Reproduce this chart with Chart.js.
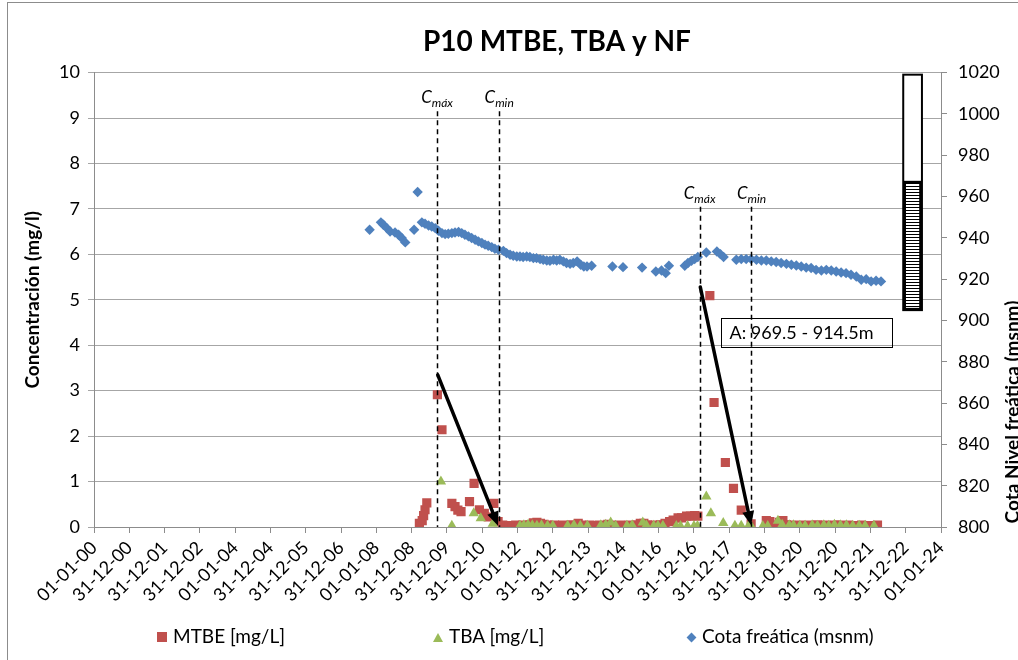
<!DOCTYPE html>
<html>
<head>
<meta charset="utf-8">
<script src="https://cdn.jsdelivr.net/npm/chart.js@4.4.1/dist/chart.umd.min.js"></script>
<style>
  html, body { margin: 0; padding: 0; background: #fff; overflow: hidden; }
  #wrap { position: relative; width: 1018px; height: 660px; overflow: hidden; }
  #frame { position: absolute; left: 7px; top: 2px; width: 1100px; height: 700px;
           border-left: 1px solid #8c8c8c; border-top: 1px solid #8c8c8c; }
  #chart { position: absolute; left: 0; top: 0; }
  .leg { position: absolute; top: 623px; font: 19px Lato, sans-serif; color: #000;
         white-space: nowrap; line-height: 26px; }
  .mk { display: inline-block; vertical-align: middle; margin-right: 6px; position: relative; top: -1px; }
  .sq { width: 10px; height: 10px; background: #C0504D; }
  .tri { width: 0; height: 0; border-left: 5px solid transparent; border-right: 5px solid transparent;
         border-bottom: 9px solid #9BBB59; }
  .dia { width: 7px; height: 7px; background: #4F81BD; transform: rotate(45deg); margin-right: 7px; }
</style>
</head>
<body>
<div id="wrap">
  <div id="frame"></div>
  <canvas id="chart" width="1114" height="660"></canvas>
  <div class="leg" style="left:157px"><span class="mk sq"></span>MTBE [mg/L]</div>
  <div class="leg" style="left:433px"><span class="mk tri"></span>TBA [mg/L]</div>
  <div class="leg" style="left:688px"><span class="mk dia"></span>Cota freática (msnm)</div>
</div>
<script>
// x values are decimal years
var tickLabels = ["01-01-00", "31-12-00", "31-12-01", "31-12-02", "01-01-04", "31-12-04", "31-12-05",
  "31-12-06", "01-01-08", "31-12-08", "31-12-09", "31-12-10", "01-01-12", "31-12-12", "31-12-13",
  "31-12-14", "01-01-16", "31-12-16", "31-12-17", "31-12-18", "01-01-20", "31-12-20", "31-12-21",
  "31-12-22", "01-01-24"];

var mtbeYears = [2009.22, 2009.30, 2009.34, 2009.38, 2009.43, 2009.73, 2009.86, 2010.14, 2010.23, 2010.31,
  2010.40, 2010.64, 2010.77, 2010.92, 2011.06, 2011.17, 2011.33, 2011.45,
  2011.58, 2011.66, 2011.75, 2011.85, 2011.95, 2012.05, 2012.15, 2012.25, 2012.35, 2012.45, 2012.55,
  2012.65, 2012.75, 2012.85, 2012.95, 2013.05, 2013.15, 2013.28, 2013.40, 2013.52, 2013.62, 2013.72,
  2013.82, 2013.95, 2014.05, 2014.20, 2014.32, 2014.45, 2014.56, 2014.66, 2014.78, 2014.90, 2015.02,
  2015.15, 2015.27, 2015.38, 2015.48, 2015.58, 2015.68, 2015.80, 2015.92, 2016.05, 2016.18, 2016.31,
  2016.41, 2016.55, 2016.65, 2016.79, 2016.90, 2017.02, 2017.11,
  2017.45, 2017.57, 2017.89, 2018.12, 2018.34, 2018.62,
  2019.05, 2019.15, 2019.28, 2019.42, 2019.52, 2019.62, 2019.75, 2019.88, 2020.00, 2020.12, 2020.25,
  2020.38, 2020.50, 2020.62, 2020.75, 2020.88, 2021.00, 2021.12, 2021.25, 2021.38, 2021.50, 2021.62,
  2021.75, 2021.88, 2022.00, 2022.12, 2022.20];
var mtbeValues = [0.08, 0.14, 0.25, 0.38, 0.53, 2.91, 2.14, 0.52, 0.45, 0.37,
  0.34, 0.56, 0.96, 0.38, 0.30, 0.22, 0.52, 0.12,
  0.04, 0.03, 0.03, 0.03, 0.04, 0.03, 0.04, 0.03, 0.05, 0.09, 0.10,
  0.08, 0.06, 0.04, 0.03, 0.04, 0.03, 0.04, 0.03, 0.05, 0.03, 0.08,
  0.04, 0.03, 0.04, 0.03, 0.04, 0.03, 0.06, 0.04, 0.03, 0.04, 0.03,
  0.04, 0.03, 0.05, 0.08, 0.08, 0.05, 0.03, 0.04, 0.05, 0.08, 0.12,
  0.15, 0.20, 0.20, 0.24, 0.24, 0.25, 0.24,
  5.09, 2.74, 1.42, 0.85, 0.37, 0.07,
  0.14, 0.12, 0.04, 0.10, 0.14, 0.05, 0.04, 0.03, 0.04, 0.03, 0.04,
  0.03, 0.05, 0.03, 0.04, 0.03, 0.04, 0.04, 0.03, 0.04, 0.03, 0.03,
  0.04, 0.03, 0.03, 0.03, 0.04];

var tbaYears = [2009.83, 2010.14, 2010.76, 2010.96, 2011.30,
  2012.07, 2012.18, 2012.30, 2012.42, 2012.55, 2012.68, 2012.85, 2013.00, 2013.42, 2013.60, 2013.78,
  2013.98, 2014.36, 2014.50, 2014.64, 2014.78, 2015.10, 2015.25, 2015.55, 2015.65, 2015.86, 2015.98,
  2016.12, 2016.50, 2016.62, 2016.82, 2017.00, 2017.10,
  2017.35, 2017.48, 2017.83, 2018.16, 2018.34, 2018.55, 2018.62,
  2018.95, 2019.09, 2019.38, 2019.50, 2019.70, 2019.82, 2020.00, 2020.15, 2020.35, 2020.50, 2020.68,
  2020.82, 2020.98, 2021.15, 2021.32, 2021.50, 2021.68, 2021.85, 2022.10];
var tbaValues = [1.00, 0.03, 0.30, 0.19, 0.07,
  0.03, 0.04, 0.05, 0.04, 0.03, 0.04, 0.03, 0.03, 0.03, 0.04, 0.03,
  0.03, 0.04, 0.05, 0.10, 0.03, 0.03, 0.04, 0.10, 0.04, 0.03, 0.03,
  0.03, 0.02, 0.02, 0.02, 0.02, 0.02,
  0.67, 0.30, 0.09, 0.03, 0.03, 0.03, 0.02,
  0.02, 0.02, 0.14, 0.05, 0.04, 0.04, 0.03, 0.03, 0.04, 0.03, 0.04,
  0.03, 0.05, 0.04, 0.04, 0.03, 0.03, 0.03, 0.03];

var cotaYears = [2007.81, 2008.13, 2008.20, 2008.30, 2008.39, 2008.53, 2008.63, 2008.72, 2008.82, 2009.07,
  2009.17, 2009.29, 2009.38, 2009.48, 2009.57, 2009.67, 2009.76, 2009.86, 2009.95, 2010.04,
  2010.14, 2010.23, 2010.33, 2010.42, 2010.51, 2010.61, 2010.70, 2010.80, 2010.89, 2010.99,
  2011.08, 2011.17, 2011.27, 2011.36, 2011.46, 2011.60, 2011.69, 2011.79, 2011.88, 2011.98,
  2012.07, 2012.16, 2012.26, 2012.35, 2012.45, 2012.54, 2012.64, 2012.73, 2012.83, 2012.92,
  2013.02, 2013.11, 2013.20, 2013.30, 2013.39, 2013.49, 2013.58, 2013.69, 2013.79, 2013.88,
  2013.97, 2014.10, 2014.69, 2014.99, 2015.53, 2015.92, 2016.08, 2016.20, 2016.29, 2016.74,
  2016.83, 2016.93, 2017.02, 2017.11, 2017.35, 2017.65, 2017.75, 2017.84, 2018.20, 2018.34,
  2018.48, 2018.62, 2018.77, 2018.91, 2019.05, 2019.19, 2019.33, 2019.47, 2019.62, 2019.76,
  2019.90, 2020.04, 2020.18, 2020.32, 2020.46, 2020.61, 2020.75, 2020.89, 2021.03, 2021.17,
  2021.31, 2021.45, 2021.60, 2021.74, 2021.88, 2022.02, 2022.16, 2022.30];
var cotaValues = [943.9, 947.5, 946.3, 944.7, 943.1, 942.6, 941.5, 939.9, 937.8, 943.9,
  962.2, 947.5, 946.8, 946.0, 945.5, 944.7, 943.4, 942.3, 941.8, 942.0,
  942.3, 942.6, 942.8, 942.3, 941.5, 940.7, 939.9, 939.1, 938.3, 937.5,
  936.7, 936.2, 935.5, 934.7, 934.2, 933.7, 932.6, 931.8, 931.3, 931.0,
  931.0, 930.7, 931.0, 930.7, 930.2, 930.2, 929.7, 929.4, 929.0, 928.9,
  929.4, 929.0, 929.4, 928.6, 927.8, 927.4, 927.8, 928.6, 927.0, 926.1,
  926.1, 926.5, 926.1, 925.8, 925.6, 923.7, 924.2, 922.9, 926.5, 926.5,
  927.8, 928.9, 929.7, 930.7, 932.9, 933.4, 932.1, 930.7, 929.4, 929.7,
  929.7, 929.7, 929.4, 929.0, 929.0, 928.6, 928.3, 927.8, 927.4, 927.0,
  926.6, 926.1, 925.6, 925.4, 924.5, 924.2, 924.5, 924.2, 923.7, 923.2,
  922.9, 922.1, 921.3, 919.7, 920.0, 918.9, 919.2, 918.9];

// C max / C min marker lines: year, top of the dashed line (mg/l), label subscript
var markerYears = [2009.72, 2011.48, 2017.16, 2018.63];
var markerTops = [9.15, 9.15, 7.05, 7.05];
var markerSubs = ["máx", "min", "máx", "min"];

// arrows from C max to C min: [year, mg/l] start and end
var arrowStarts = [[2009.74, 3.35], [2017.18, 5.28]];
var arrowEnds = [[2011.45, 0.03], [2018.62, 0.04]];

// screened interval box text and the well column on the right axis (msnm)
var screenText = "A: 969.5 - 914.5m";
var screenBox = { x0: 2017.78, x1: 2022.62, yTop: 4.60, yBottom: 3.96 };
var wellYears = [2022.93, 2023.46];
var wellTop = 1019, wellScreenTop = 967, wellBottom = 905;

var FONT = "Lato, 'Open Sans', sans-serif";
var DAYS = 365.25;

function toXY(years, values) {
  return years.map(function (yr, i) { return { x: (yr - 2000) * DAYS, y: values[i] }; });
}

function hatchPattern(ctx) {
  var c = document.createElement("canvas");
  c.width = 4; c.height = 3;
  var g = c.getContext("2d");
  g.fillStyle = "#fff"; g.fillRect(0, 0, 4, 3);
  g.fillStyle = "#000"; g.fillRect(0, 0, 4, 1);
  return ctx.createPattern(c, "repeat");
}

var annotations = {
  id: "annotations",
  afterDatasetsDraw: function (chart) {
    var ctx = chart.ctx, x = chart.scales.x, y = chart.scales.y, y1 = chart.scales.y1;
    var px = function (yr) { return x.getPixelForValue((yr - 2000) * DAYS); };
    ctx.save();

    // well column
    var wl = px(wellYears[0]), wr = px(wellYears[1]);
    var wTop = y1.getPixelForValue(wellTop), wScr = y1.getPixelForValue(wellScreenTop), wBot = y1.getPixelForValue(wellBottom);
    ctx.fillStyle = "#fff";
    ctx.fillRect(wl, wTop, wr - wl, wBot - wTop);
    ctx.fillStyle = hatchPattern(ctx);
    ctx.fillRect(wl, wScr, wr - wl, wBot - wScr);
    ctx.strokeStyle = "#000";
    ctx.lineWidth = 2;
    ctx.strokeRect(wl, wTop, wr - wl, wBot - wTop);
    ctx.lineWidth = 2.5;
    ctx.strokeRect(wl + 1.5, wScr, wr - wl - 3, wBot - wScr - 1);

    // screen text box
    var bx0 = px(screenBox.x0), bx1 = px(screenBox.x1);
    var by0 = y.getPixelForValue(screenBox.yTop), by1 = y.getPixelForValue(screenBox.yBottom);
    ctx.lineWidth = 1;
    ctx.strokeStyle = "#000";
    ctx.strokeRect(Math.round(bx0) + 0.5, Math.round(by0) + 0.5, Math.round(bx1 - bx0), Math.round(by1 - by0));
    ctx.fillStyle = "#000";
    ctx.font = "18px " + FONT;
    ctx.textBaseline = "middle";
    ctx.textAlign = "left";
    ctx.fillText(screenText, bx0 + 8, (by0 + by1) / 2 + 1);

    // dashed marker lines with labels
    ctx.setLineDash([5, 4]);
    ctx.lineWidth = 1.5;
    markerYears.forEach(function (yr, i) {
      var lx = Math.round(px(yr)) + 0.5;
      ctx.beginPath();
      ctx.moveTo(lx, y.getPixelForValue(markerTops[i]));
      ctx.lineTo(lx, y.bottom);
      ctx.stroke();
    });
    ctx.setLineDash([]);
    markerYears.forEach(function (yr, i) {
      var lx = px(yr), top = y.getPixelForValue(markerTops[i]);
      ctx.font = "italic 17px " + FONT;
      var wC = ctx.measureText("C").width;
      ctx.font = "italic 12px " + FONT;
      var wS = ctx.measureText(markerSubs[i]).width;
      var start = lx - (wC + wS) / 2;
      ctx.textBaseline = "alphabetic";
      ctx.font = "italic 17px " + FONT;
      ctx.fillText("C", start, top - 8);
      ctx.font = "italic 12px " + FONT;
      ctx.fillText(markerSubs[i], start + wC, top - 4);
    });

    // arrows
    ctx.lineWidth = 3.5;
    ctx.lineCap = "round";
    arrowStarts.forEach(function (s, i) {
      var x0 = px(s[0]), y0 = y.getPixelForValue(s[1]);
      var x1 = px(arrowEnds[i][0]), y1p = y.getPixelForValue(arrowEnds[i][1]);
      var ang = Math.atan2(y1p - y0, x1 - x0), head = 14, half = 6;
      var bxp = x1 - head * Math.cos(ang), byp = y1p - head * Math.sin(ang);
      ctx.beginPath();
      ctx.moveTo(x0, y0);
      ctx.lineTo(bxp, byp);
      ctx.stroke();
      ctx.beginPath();
      ctx.moveTo(x1, y1p);
      ctx.lineTo(bxp + half * Math.sin(ang), byp - half * Math.cos(ang));
      ctx.lineTo(bxp - half * Math.sin(ang), byp + half * Math.cos(ang));
      ctx.closePath();
      ctx.fill();
    });
    ctx.restore();
  },
  afterDraw: function (chart) {
    // right axis title, read bottom to top like the left one
    var ctx = chart.ctx, y1 = chart.scales.y1;
    ctx.save();
    ctx.translate(1013, 412);
    ctx.rotate(-Math.PI / 2);
    ctx.font = "bold 19px " + FONT;
    ctx.fillStyle = "#000";
    ctx.textAlign = "center";
    ctx.textBaseline = "middle";
    ctx.fillText("Cota Nivel freática (msnm)", 0, 0);
    ctx.restore();
  }
};

var axisGray = "#8c8c8c";

new Chart(document.getElementById("chart"), {
  type: "scatter",
  data: {
    datasets: [
      { label: "MTBE [mg/L]", data: toXY(mtbeYears, mtbeValues), yAxisID: "y", order: 2,
        pointStyle: "rect", pointRadius: 6.5, backgroundColor: "#C0504D", borderColor: "#C0504D", borderWidth: 0 },
      { label: "TBA [mg/L]", data: toXY(tbaYears, tbaValues), yAxisID: "y", order: 1,
        pointStyle: "triangle", pointRadius: 6, backgroundColor: "#9BBB59", borderColor: "#9BBB59", borderWidth: 0 },
      { label: "Cota freática (msnm)", data: toXY(cotaYears, cotaValues), yAxisID: "y1", order: 3,
        pointStyle: "rectRot", pointRadius: 5.2, backgroundColor: "#4F81BD", borderColor: "#4F81BD", borderWidth: 0 }
    ]
  },
  options: {
    responsive: false,
    animation: false,
    events: [],
    layout: { padding: 0 },
    plugins: {
      legend: { display: false },
      tooltip: { enabled: false },
      title: {
        display: true,
        text: "P10 MTBE, TBA y NF",
        color: "#000",
        font: { family: FONT, size: 28, weight: "bold" },
        padding: { top: 25, bottom: 14 }
      }
    },
    scales: {
      x: {
        type: "linear",
        min: 0,
        max: 24 * DAYS,
        afterFit: function (s) { s.height = 133; },
        afterBuildTicks: function (s) {
          s.ticks = tickLabels.map(function (_, i) { return { value: i * DAYS }; });
        },
        ticks: {
          autoSkip: false, maxRotation: 45, minRotation: 45, color: "#000", padding: 4,
          font: { family: FONT, size: 18 },
          callback: function (v, i) { return tickLabels[i]; }
        },
        grid: { drawOnChartArea: false, color: axisGray, tickLength: 6 },
        border: { color: axisGray }
      },
      y: {
        position: "left",
        min: 0, max: 10,
        afterFit: function (s) { s.width = 94; },
        ticks: { stepSize: 1, color: "#000", padding: 8, font: { family: FONT, size: 18 } },
        grid: { color: "#a6a6a6", tickLength: 6 },
        border: { color: axisGray },
        title: { display: true, text: "Concentración (mg/l)", color: "#000",
                 font: { family: FONT, size: 19, weight: "bold" }, padding: { top: 21, bottom: 0 } }
      },
      y1: {
        position: "right",
        min: 800, max: 1020,
        afterFit: function (s) { s.width = 1114 - 941; },
        ticks: { stepSize: 20, color: "#000", padding: 11, font: { family: FONT, size: 18 },
                 callback: function (v) { return String(v); } },
        grid: { drawOnChartArea: false, color: axisGray, tickLength: 6 },
        border: { color: axisGray }
      }
    }
  },
  plugins: [annotations]
});
</script>
</body>
</html>
